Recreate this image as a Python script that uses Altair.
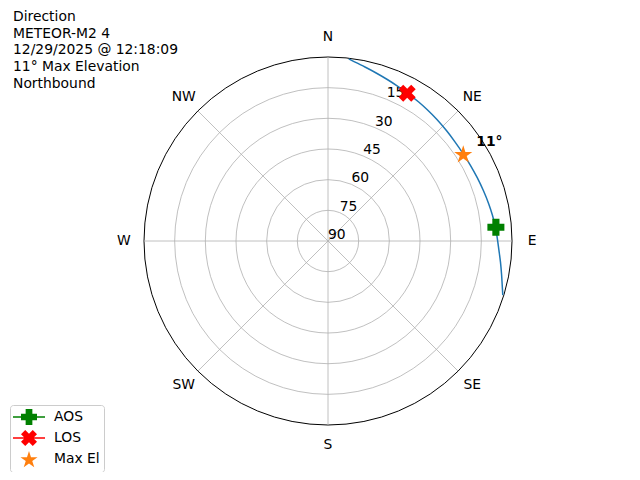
import math
import altair as alt
import pandas as pd

# ---------------- data ----------------
title_lines = ["Direction", "METEOR-M2 4", "12/29/2025 @ 12:18:09",
               "11° Max Elevation", "Northbound"]
dir_names = ["N", "NE", "E", "SE", "S", "SW", "W", "NW"]
dir_az = [0, 45, 90, 135, 180, 225, 270, 315]
ring_el = [15, 30, 45, 60, 75]
horizon_el = [0]
rtick_el = [15, 30, 45, 60, 75, 90]

track_az = [107.2, 104, 101, 97, 93, 89, 85.3, 81, 77, 72, 67, 62, 57.2,
            52, 47, 42, 37, 33, 28.2, 24, 20, 16, 12, 9, 6.5]
track_el = [0.5, 2.2, 3.5, 5.0, 6.3, 7.2, 7.8, 8.6, 9.3, 10.1, 10.7, 11.1, 11.3,
            11.2, 10.8, 10.2, 9.5, 8.8, 7.9, 6.9, 5.8, 4.5, 3.0, 1.7, 0.3]

event_names = ["AOS", "LOS", "Max El"]
event_az = [85.3, 28.2, 57.2]
event_el = [7.6, 8.0, 11.3]
event_colors = ["#008000", "#ff0000", "#ff7f0e"]
max_label = "11°"

# ---------------- geometry ----------------
W, H = 624, 464
CX, CY = 320, 233
R = 184
PPD = R / 90.0
RLAB = 99.8
RTICK_AZ = 22.5
FONT = "DejaVu Sans"
FS = 13.89

xs = alt.Scale(domain=[-CX / PPD, (W - CX) / PPD], nice=False, zero=False)
ys = alt.Scale(domain=[-(H - CY) / PPD, CY / PPD], nice=False, zero=False)


def pstr(pts):
    return "M" + "L".join(f"{x:.3f},{y:.3f}" for x, y in pts) + "Z"


a = 0.42
plus_pts = [(-a, -1), (a, -1), (a, -a), (1, -a), (1, a), (a, a), (a, 1), (-a, 1),
            (-a, a), (-1, a), (-1, -a), (-a, -a)]
b = 0.36
k = math.sqrt(2) / (1 + b)
xp = [(-b, -1), (b, -1), (b, -b), (1, -b), (1, b), (b, b), (b, 1), (-b, 1),
      (-b, b), (-1, b), (-1, -b), (-b, -b)]
x_pts = [((px - py) / math.sqrt(2) * k, (px + py) / math.sqrt(2) * k) for px, py in xp]
star_pts = []
for i in range(10):
    rr = 1.12 if i % 2 == 0 else 1.12 * 0.381966
    ang = math.radians(-90 + 36 * i)
    star_pts.append((rr * math.cos(ang), rr * math.sin(ang) + 0.12))

plus_path = pstr(plus_pts)
x_path = pstr(x_pts)
star_path = pstr(star_pts)
line_path = " M-2,-0.09L2,-0.09L2,0.09L-2,0.09Z"
marker_paths = [plus_path, x_path, star_path]
legend_paths = [plus_path + line_path, x_path + line_path, star_path]


def XY():
    return dict(x=alt.X("px:Q", scale=xs, axis=None),
                y=alt.Y("py:Q", scale=ys, axis=None))


# ---------------- layers ----------------
rings = alt.Chart(pd.DataFrame({"el": ring_el})).transform_calculate(
    px="0", py="0", sz=f"pow(2*(90-datum.el)*{PPD},2)"
).mark_point(shape="circle", filled=False, color="#b0b0b0", strokeWidth=0.8,
             opacity=1).encode(**XY(), size=alt.Size("sz:Q", scale=None))

horizon = alt.Chart(pd.DataFrame({"el": horizon_el})).transform_calculate(
    px="0", py="0", sz=f"pow(2*(90-datum.el)*{PPD},2)"
).mark_point(shape="circle", filled=False, color="black", strokeWidth=1,
             opacity=1).encode(**XY(), size=alt.Size("sz:Q", scale=None))

spokes = alt.Chart(pd.DataFrame({"az": dir_az})).transform_calculate(
    px="0", py="0",
    px2="90*sin(datum.az*PI/180)", py2="90*cos(datum.az*PI/180)"
).mark_rule(color="#b0b0b0", strokeWidth=0.8).encode(
    **XY(), x2="px2:Q", y2="py2:Q")

dir_text = alt.Chart(pd.DataFrame({"name": dir_names, "az": dir_az})).transform_calculate(
    px=f"{RLAB}*sin(datum.az*PI/180)", py=f"{RLAB}*cos(datum.az*PI/180)"
).mark_text(font=FONT, fontSize=FS, color="black", align="center",
            baseline="middle").encode(**XY(), text="name:N")

rtick_text = alt.Chart(pd.DataFrame({"el": rtick_el})).transform_calculate(
    px=f"(90-datum.el)*sin({RTICK_AZ}*PI/180)",
    py=f"(90-datum.el)*cos({RTICK_AZ}*PI/180)"
).mark_text(font=FONT, fontSize=FS, color="black", align="left",
            baseline="bottom", dy=1).encode(**XY(), text="el:Q")

track = alt.Chart(pd.DataFrame({"i": list(range(len(track_az))), "az": track_az,
                                "el": track_el})).transform_calculate(
    px="(90-datum.el)*sin(datum.az*PI/180)",
    py="(90-datum.el)*cos(datum.az*PI/180)"
).mark_line(color="#1f77b4", strokeWidth=1.5, interpolate="catmull-rom").encode(
    **XY(), order="i:Q")

events = pd.DataFrame({"name": event_names, "az": event_az, "el": event_el})

markers = alt.Chart(events).transform_calculate(
    px="(90-datum.el)*sin(datum.az*PI/180)",
    py="(90-datum.el)*cos(datum.az*PI/180)"
).mark_point(filled=True, opacity=1, size=289).encode(
    **XY(),
    color=alt.Color("name:N", scale=alt.Scale(domain=event_names, range=event_colors),
                    legend=None),
    shape=alt.Shape("name:N", scale=alt.Scale(domain=event_names, range=marker_paths),
                    legend=None))

maxlab = alt.Chart(events).transform_filter("datum.name == 'Max El'").transform_calculate(
    px="(90-datum.el)*sin(datum.az*PI/180)",
    py="(90-datum.el)*cos(datum.az*PI/180)",
    lab=f"'{max_label}'"
).mark_text(font=FONT, fontSize=FS, fontWeight="bold", color="black", align="left",
            baseline="middle", dx=13, dy=-12).encode(**XY(), text="lab:N")

leg = dict(title=None, orient="none", legendX=2, legendY=397, padding=4,
           symbolOffset=7, labelOffset=17, rowPadding=5, fillColor="white",
           strokeColor="#cccccc", cornerRadius=3, labelFont=FONT, labelFontSize=FS,
           labelColor="black", symbolStrokeWidth=0, symbolSize=256)

legend_layer = alt.Chart(events).transform_filter("false").mark_point(
    filled=True, opacity=1, size=256).encode(
    color=alt.Color("name:N", scale=alt.Scale(domain=event_names, range=event_colors),
                    legend=alt.Legend(**leg)),
    shape=alt.Shape("name:N", scale=alt.Scale(domain=event_names, range=legend_paths),
                    legend=alt.Legend(**leg)))

title = alt.Chart(pd.DataFrame({"t": ["\n".join(title_lines)]})).mark_text(
    font=FONT, fontSize=FS, color="black", align="left", baseline="alphabetic",
    lineHeight=16.67, lineBreak="\n").encode(
    x=alt.value(5), y=alt.value(13), text="t:N")

chart = alt.layer(rings, horizon, spokes, rtick_text, dir_text, track, markers, maxlab,
                  title, legend_layer).resolve_scale(
    color="independent", shape="independent"
).properties(width=W, height=H, autosize=alt.AutoSizeParams(type="none"), padding=0
).configure_view(strokeWidth=0)

chart.save("out.html", embed_options={"renderer": "svg", "actions": False})
